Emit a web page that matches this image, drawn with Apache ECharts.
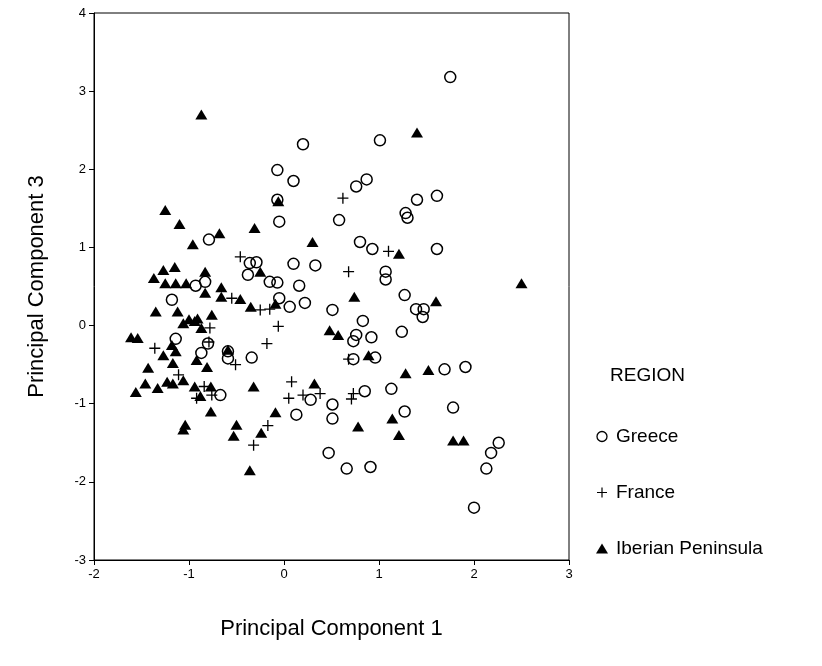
<!DOCTYPE html>
<html>
<head>
<meta charset="utf-8">
<script src="https://cdn.jsdelivr.net/npm/echarts@6/dist/echarts.min.js"></script>
<style>
  html, body { margin: 0; padding: 0; background: #fff; }
  #chart { width: 822px; height: 666px; }
</style>
</head>
<body>
<div id="chart"></div>
<script>
// Principal component scores (PC1, PC3) per region
const greece = [
  [1.75, 3.18], [1.01, 2.37], [0.20, 2.32], [-0.07, 1.99], [0.10, 1.85],
  [0.87, 1.87], [0.76, 1.78], [-0.07, 1.61], [1.40, 1.61], [1.61, 1.66],
  [1.28, 1.44], [1.30, 1.38], [-0.05, 1.33], [0.58, 1.35], [-0.79, 1.10],
  [0.80, 1.07], [0.93, 0.98], [1.61, 0.98], [-0.36, 0.80], [-0.29, 0.81],
  [0.10, 0.79], [0.33, 0.77], [1.07, 0.69], [1.07, 0.59], [-0.38, 0.65],
  [-0.83, 0.56], [-0.93, 0.51], [-0.15, 0.56], [-0.07, 0.55], [0.16, 0.51],
  [1.27, 0.39], [-0.05, 0.35], [0.22, 0.29], [0.06, 0.24], [-1.18, 0.33],
  [0.51, 0.20], [1.39, 0.21], [1.47, 0.21], [1.46, 0.11], [0.83, 0.06],
  [0.76, -0.12], [0.73, -0.20], [0.92, -0.15], [1.24, -0.08], [0.73, -0.43],
  [0.96, -0.41], [-1.14, -0.17], [-0.80, -0.23], [-0.87, -0.35], [-0.59, -0.33],
  [-0.59, -0.42], [-0.34, -0.41], [-0.67, -0.89], [1.69, -0.56], [1.91, -0.53],
  [1.13, -0.81], [0.85, -0.84], [0.28, -0.95], [0.13, -1.14], [0.51, -1.01],
  [0.51, -1.19], [1.27, -1.10], [1.78, -1.05], [0.47, -1.63], [0.66, -1.83],
  [0.91, -1.81], [2.26, -1.50], [2.18, -1.63], [2.13, -1.83], [2.00, -2.33]
];

const france = [
  [0.62, 1.63], [-0.46, 0.88], [0.68, 0.69], [1.10, 0.95], [-0.55, 0.35],
  [-0.25, 0.20], [-0.15, 0.21], [-0.06, -0.01], [-0.18, -0.23], [-0.78, -0.03],
  [-0.79, -0.21], [-1.36, -0.29], [-0.51, -0.50], [-1.11, -0.63], [-0.84, -0.78],
  [-0.76, -0.89], [-0.92, -0.93], [0.68, -0.43], [0.08, -0.72], [0.05, -0.93],
  [0.20, -0.89], [0.38, -0.87], [0.73, -0.87], [0.71, -0.94], [-0.17, -1.28],
  [-0.32, -1.53]
];

const iberia = [
  [-0.87, 2.70], [1.40, 2.47], [-0.06, 1.59], [-1.25, 1.48], [-1.10, 1.30],
  [-0.31, 1.25], [-0.68, 1.18], [-0.96, 1.04], [0.30, 1.07], [1.21, 0.92],
  [2.50, 0.54], [1.60, 0.31], [-1.27, 0.71], [-1.15, 0.75], [-1.37, 0.61],
  [-0.83, 0.69], [-1.25, 0.54], [-1.14, 0.54], [-1.03, 0.54], [-0.83, 0.42],
  [-0.66, 0.49], [-0.66, 0.37], [-0.46, 0.34], [-0.25, 0.69], [-0.35, 0.24],
  [-1.35, 0.18], [-1.12, 0.18], [-1.00, 0.08], [-0.91, 0.09], [-0.76, 0.14],
  [-1.06, 0.03], [-0.94, 0.06], [-0.87, -0.03], [-0.09, 0.28], [0.74, 0.37],
  [0.48, -0.06], [0.57, -0.12], [0.89, -0.38], [-1.61, -0.15], [-1.54, -0.16],
  [-1.18, -0.25], [-1.27, -0.38], [-1.14, -0.33], [-1.17, -0.48], [-0.92, -0.44],
  [-0.81, -0.53], [-1.43, -0.54], [-0.59, -0.31], [-1.06, -0.70], [-1.46, -0.74],
  [-1.23, -0.72], [-1.17, -0.74], [-1.56, -0.85], [-1.33, -0.80], [-0.94, -0.78],
  [-0.77, -0.78], [-0.88, -0.90], [-0.32, -0.78], [-0.77, -1.10], [-1.04, -1.27],
  [-1.06, -1.33], [-0.50, -1.27], [-0.53, -1.41], [-0.24, -1.37], [-0.36, -1.85],
  [0.32, -0.74], [-0.09, -1.11], [1.28, -0.61], [1.52, -0.57], [1.14, -1.19],
  [0.78, -1.29], [1.21, -1.40], [1.78, -1.47], [1.89, -1.47]
];

const regionNames = ['Greece', 'France', 'Iberian Peninsula'];
const xTicks = { min: -2, max: 3, step: 1 };
const yTicks = { min: -3, max: 4, step: 1 };

const FONT = '"Liberation Sans", Arial, sans-serif';
const PLUS = 'path://M4.4,0H5.6V4.4H10V5.6H5.6V10H4.4V5.6H0V4.4H4.4Z';

const chart = echarts.init(document.getElementById('chart'), null, { renderer: 'canvas' });

const axisCommon = {
  type: 'value',
  nameLocation: 'middle',
  nameTextStyle: { fontFamily: FONT, fontSize: 22, color: '#000' },
  axisLine: { show: true, onZero: false, lineStyle: { color: '#000', width: 1 } },
  axisTick: { show: true, inside: false, length: 5, lineStyle: { color: '#000' } },
  axisLabel: { fontFamily: FONT, fontSize: 13, color: '#000' },
  splitLine: { show: false }
};

chart.setOption({
  animation: false,
  backgroundColor: '#fff',
  title: {
    text: 'REGION',
    left: 605,
    top: 361,
    textStyle: { fontFamily: FONT, fontSize: 19, fontWeight: 'normal', color: '#000' }
  },
  grid: {
    left: 94, right: 253, top: 13, bottom: 106,
    show: true, borderColor: '#000', borderWidth: 1, backgroundColor: 'transparent'
  },
  legend: {
    orient: 'vertical',
    left: 591,
    top: 422,
    itemGap: 37,
    itemWidth: 12,
    itemHeight: 10,
    textStyle: { fontFamily: FONT, fontSize: 19, color: '#000', padding: [0, 0, 0, 3] },
    data: [
      { name: regionNames[0], icon: 'circle', itemStyle: { color: 'transparent', borderColor: '#000', borderWidth: 1.3 } },
      { name: regionNames[1], icon: PLUS, itemStyle: { color: '#000', borderWidth: 0 } },
      { name: regionNames[2], icon: 'triangle', itemStyle: { color: '#000', borderWidth: 0 } }
    ]
  },
  xAxis: Object.assign({}, axisCommon, {
    min: xTicks.min, max: xTicks.max, interval: xTicks.step,
    name: 'Principal Component 1',
    nameGap: 58,
    axisLabel: Object.assign({}, axisCommon.axisLabel, { margin: 8 })
  }),
  yAxis: Object.assign({}, axisCommon, {
    min: yTicks.min, max: yTicks.max, interval: yTicks.step,
    name: 'Principal Component 3',
    nameGap: 46,
    axisLabel: Object.assign({}, axisCommon.axisLabel, { margin: 8 })
  }),
  series: [
    {
      name: regionNames[0],
      type: 'scatter',
      data: greece,
      symbol: 'circle',
      symbolSize: 11,
      itemStyle: { color: 'transparent', borderColor: '#000', borderWidth: 1.5, opacity: 1 },
      emphasis: { disabled: true },
      z: 3
    },
    {
      name: regionNames[1],
      type: 'scatter',
      data: france,
      symbol: PLUS,
      symbolSize: 11,
      itemStyle: { color: '#000', borderWidth: 0, opacity: 1 },
      emphasis: { disabled: true },
      z: 4
    },
    {
      name: regionNames[2],
      type: 'scatter',
      data: iberia,
      symbol: 'triangle',
      symbolSize: [12, 10],
      itemStyle: { color: '#000', borderWidth: 0, opacity: 1 },
      emphasis: { disabled: true },
      z: 2
    }
  ]
});
</script>
</body>
</html>
